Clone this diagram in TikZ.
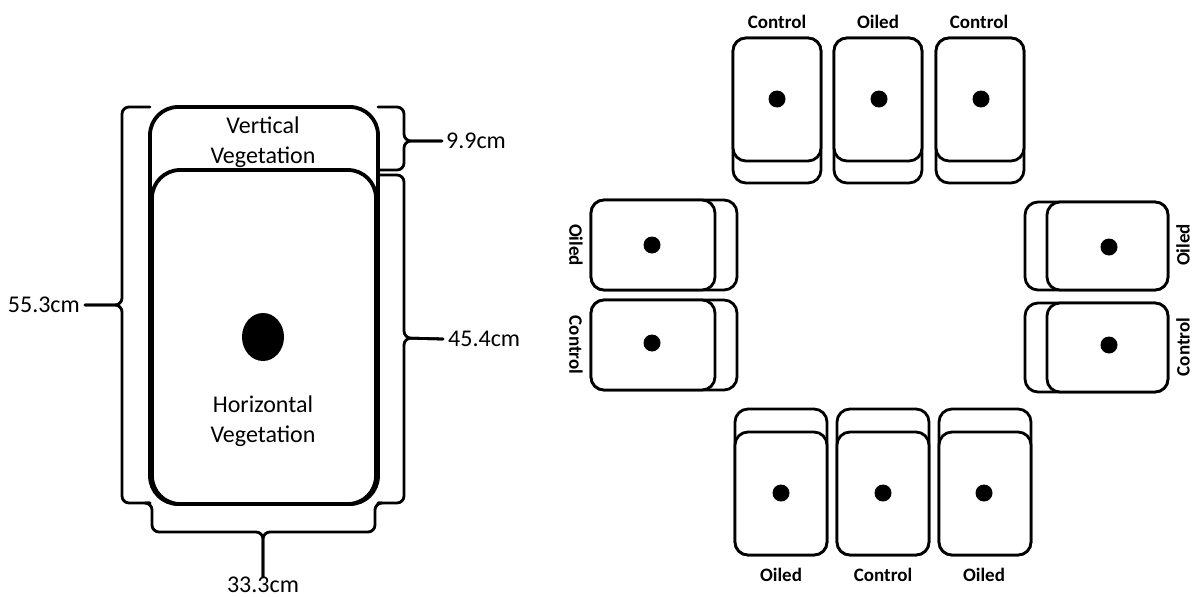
\documentclass[tikz,border=0pt]{standalone}
\usepackage{fontspec}
\setmainfont{Carlito}
\begin{document}
\begin{tikzpicture}[x=1pt,y=-1pt,
  bigbox/.style={draw=black,fill=white,line width=3.8pt,rounded corners=28pt},
  smallbox/.style={draw=black,fill=white,line width=2.8pt,rounded corners=13pt},
  brace/.style={draw=black,line width=2.8pt,rounded corners=7pt,line cap=round},
  dot/.style={fill=black},
  bigtxt/.style={font=\fontsize{24}{30}\selectfont,align=center,inner sep=2pt},
  lbl/.style={font=\fontsize{19}{22}\selectfont\bfseries,inner sep=0pt}]
\useasboundingbox (0,0) rectangle (1192,597);
% ---------- left diagram ----------
\draw[bigbox] (150,107) rectangle (378,504);
\draw[bigbox] (152,170) rectangle (376,504);
\fill[dot] (263,337) ellipse [x radius=21, y radius=24];
\node[bigtxt] (vv) at (263,142) {Vertical\\Vegetation};
\node[bigtxt] (hv) at (263,421) {Horizontal\\Vegetation};
% labels
\node[bigtxt,anchor=east,inner sep=5pt] (l553) at (85,305) {55.3cm};
\node[bigtxt,anchor=west,inner sep=4pt] (l99) at (442,141) {9.9cm};
\node[bigtxt,anchor=west,inner sep=5pt] (l454) at (443,339) {45.4cm};
\node[bigtxt,anchor=north,inner sep=0pt] (l333) at (263,577) {33.3cm};
% braces
\draw[brace] (150,107) -- (122,107) -- (122,305) -- (l553.east);
\draw[brace] (150,503) -- (122,503) -- (122,305) -- (l553.east);
\draw[brace] (378,107) -- (404,107) -- (404,141) -- (l99.west);
\draw[brace] (378,170) -- (404,170) -- (404,141) -- (l99.west);
\draw[brace] (378,175) -- (404,175) -- (404,338) -- (l454.west);
\draw[brace] (378,503) -- (404,503) -- (404,338) -- (l454.west);
\draw[brace] (150,503) -- (152,503) -- (152,532) -- (263,532) -- (l333.north);
\draw[brace] (378,503) -- (375,503) -- (375,532) -- (263,532) -- (l333.north);
% ---------- right layout ----------
% top row
\foreach \cx in {777,878,980}{
  \draw[smallbox] (\cx-44,38) rectangle (\cx+44,183);
  \draw[smallbox] (\cx-44,38) rectangle (\cx+44,161);
}
\fill[dot] (777,99) circle (8.5);
\fill[dot] (879,99) circle (8.5);
\fill[dot] (981,99) circle (8.5);
\node[lbl] (t1) at (777,22) {Control};
\node[lbl] (t2) at (878,22) {Oiled};
\node[lbl] (t3) at (979,22) {Control};
% bottom row
\foreach \cx in {781,883,985}{
  \draw[smallbox] (\cx-46,409) rectangle (\cx+46,555);
  \draw[smallbox] (\cx-46,432) rectangle (\cx+46,555);
}
\fill[dot] (781,493) circle (8.5);
\fill[dot] (883,493) circle (8.5);
\fill[dot] (984,493) circle (8.5);
\node[lbl] (b1) at (781,575) {Oiled};
\node[lbl] (b2) at (883,575) {Control};
\node[lbl] (b3) at (984,575) {Oiled};
% left column
\foreach \yt/\yb in {200/290,300/390}{
  \draw[smallbox] (591,\yt) rectangle (737,\yb);
  \draw[smallbox] (591,\yt) rectangle (715,\yb);
}
\fill[dot] (652,245) circle (8.5);
\fill[dot] (652,343) circle (8.5);
\node[lbl,rotate=-90] (lc1) at (576,245) {Oiled};
\node[lbl,rotate=-90] (lc2) at (576,345) {Control};
% right column
\foreach \yt/\yb in {202/290,303/392}{
  \draw[smallbox] (1025,\yt) rectangle (1168,\yb);
  \draw[smallbox] (1047,\yt) rectangle (1168,\yb);
}
\fill[dot] (1109,247) circle (8.5);
\fill[dot] (1109,345) circle (8.5);
\node[lbl,rotate=90] (rc1) at (1183,245) {Oiled};
\node[lbl,rotate=90] (rc2) at (1183,347) {Control};
\end{tikzpicture}
\end{document}
